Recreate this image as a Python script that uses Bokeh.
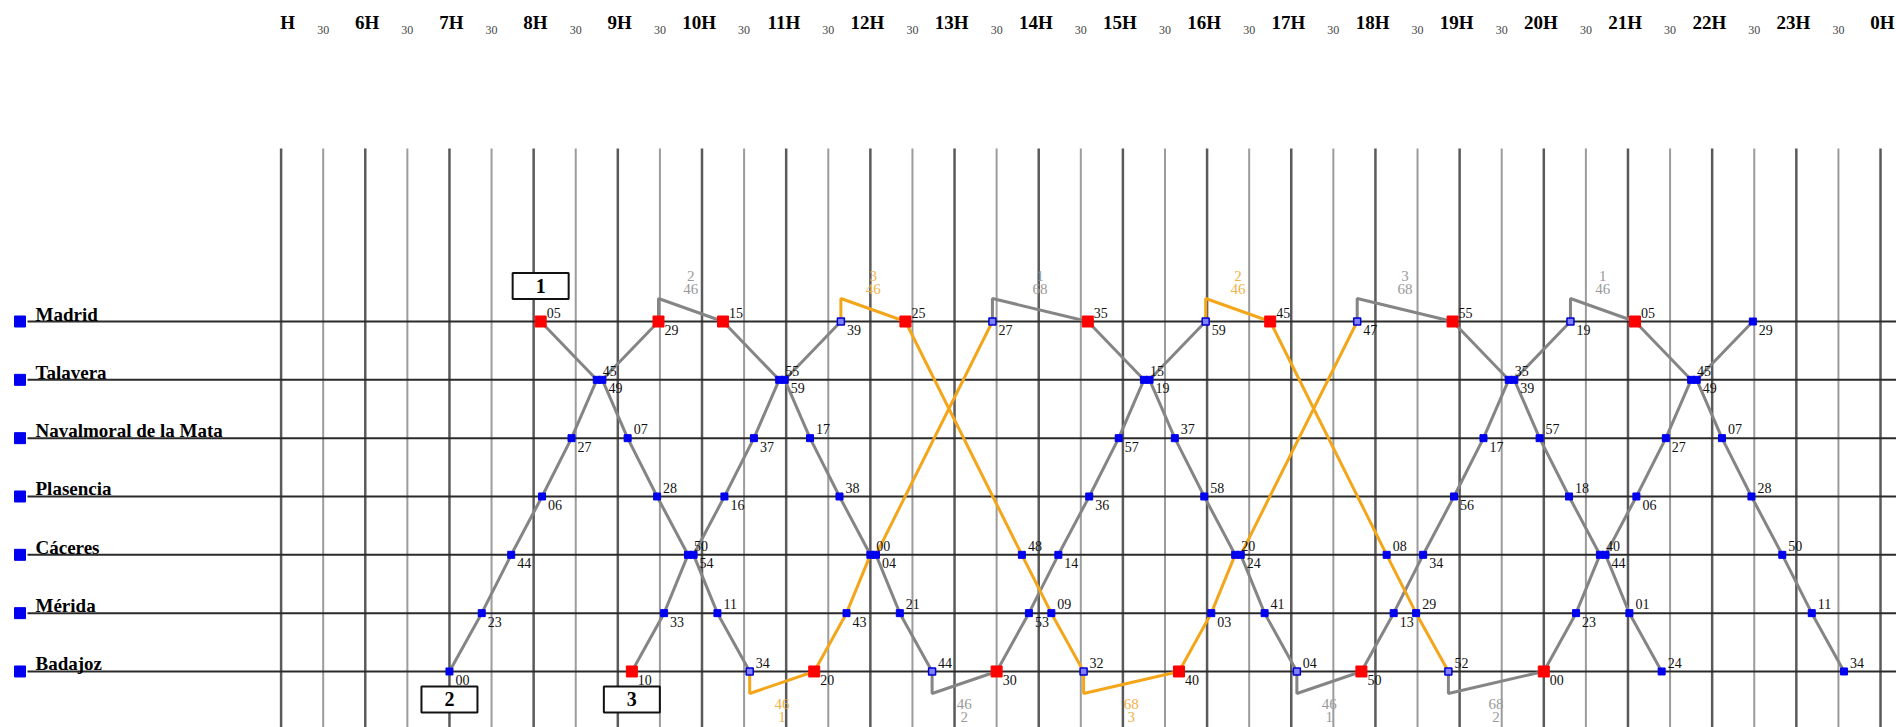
import numpy as np
from bokeh.plotting import figure
from bokeh.models import Range1d
from bokeh.core.properties import value
from bokeh.embed import file_html
from bokeh.resources import INLINE

# ---------------- data ----------------
stations = ["Madrid", "Talavera", "Navalmoral de la Mata", "Plasencia",
            "Cáceres", "Mérida", "Badajoz"]

hour_labels = ["H", "6H", "7H", "8H", "9H", "10H", "11H", "12H", "13H", "14H",
               "15H", "16H", "17H", "18H", "19H", "20H", "21H", "22H", "23H", "0H"]
hour_values = list(range(5, 25))
half_label = "30"

# times listed in station order Madrid -> Badajoz ("arr/dep" for crossings)
south_gray = [
    ["8:05", "8:45/8:49", "9:07", "9:28", "9:50/9:54", "10:11", "10:34"],
    ["10:15", "10:55/10:59", "11:17", "11:38", "12:00/12:04", "12:21", "12:44"],
    ["14:35", "15:15/15:19", "15:37", "15:58", "16:20/16:24", "16:41", "17:04"],
    ["18:55", "19:35/19:39", "19:57", "20:18", "20:40/20:44", "21:01", "21:24"],
    ["21:05", "21:45/21:49", "22:07", "22:28", "22:50", "23:11", "23:34"],
]
south_orange = [
    ["12:25", None, None, None, "13:48", "14:09", "14:32"],
    ["16:45", None, None, None, "18:08", "18:29", "18:52"],
]
north_gray = [
    ["9:29", "8:45/8:49", "8:27", "8:06", "7:44", "7:23", "7:00"],
    ["11:39", "10:55/10:59", "10:37", "10:16", "9:50/9:54", "9:33", "9:10"],
    ["15:59", "15:15/15:19", "14:57", "14:36", "14:14", "13:53", "13:30"],
    ["20:19", "19:35/19:39", "19:17", "18:56", "18:34", "18:13", "17:50"],
    ["22:29", "21:45/21:49", "21:27", "21:06", "20:40/20:44", "20:23", "20:00"],
]
north_orange = [
    ["13:27", None, None, None, "12:00/12:04", "11:43", "11:20"],
    ["17:47", None, None, None, "16:20/16:24", "16:03", "15:40"],
]

# turnarounds at Madrid (loop above the line)
madrid_turn_arr = ["9:29", "11:39", "13:27", "15:59", "17:47", "20:19"]
madrid_turn_dep = ["10:15", "12:25", "14:35", "16:45", "18:55", "21:05"]
madrid_turn_col = ["gray", "orange", "gray", "orange", "gray", "gray"]
madrid_turn_l1 = ["2", "3", "1", "2", "3", "1"]
madrid_turn_l2 = ["46", "46", "68", "46", "68", "46"]

# turnarounds at Badajoz (loop below the line)
badajoz_turn_arr = ["10:34", "12:44", "14:32", "17:04", "18:52"]
badajoz_turn_dep = ["11:20", "13:30", "15:40", "17:50", "20:00"]
badajoz_turn_col = ["orange", "gray", "orange", "gray", "gray"]
badajoz_turn_l1 = ["46", "46", "68", "46", "68"]
badajoz_turn_l2 = ["1", "2", "3", "1", "2"]

red_madrid = ["8:05", "9:29", "10:15", "12:25", "14:35", "16:45", "18:55", "21:05"]
red_badajoz = ["9:10", "11:20", "13:30", "15:40", "17:50", "20:00"]

box_labels = ["1", "2", "3"]
box_station = [0, 6, 6]
box_time = ["8:05", "7:00", "9:10"]

# ---------------- layout helpers ----------------
PX_H = 84.18      # px per hour
PX_S = 58.33      # px per station step
X5 = 280.6        # screen x of 5:00
Y0 = 321.0        # screen y of Madrid line
W, H = 1896, 727
OX, OY = 0, 0     # page position of the figure

def hx(px):
    return 5 + (px - X5) / PX_H

def sy(py):
    return (py - Y0) / PX_S

def dxp(px):
    return px / PX_H

def dyp(py):
    return py / PX_S

def hm(s):
    h, m = s.split(":")
    return int(h) + int(m) / 60.0

COL = {"gray": "#858585", "orange": "#F4A61A"}
LCOL = {"gray": "#9a9a9a", "orange": "#F0B24A"}
SERIF = value("Liberation Serif")

x_start, x_end = hx(OX), hx(OX + W)
y_top, y_bot = sy(OY), sy(OY + H)

p = figure(width=W, height=H, x_range=Range1d(x_start, x_end),
           y_range=Range1d(y_bot, y_top), output_backend="svg",
           toolbar_location=None, min_border=0, x_axis_location=None,
           y_axis_location=None, outline_line_color=None)
p.grid.visible = False
p.background_fill_color = "white"
p.border_fill_color = "white"

# vertical grid
hrs = np.array(hour_values, dtype=float)
halves = hrs[:-1] + 0.5
p.segment(x0=hrs, y0=sy(148), x1=hrs, y1=y_bot, color="#5a5a5a", line_width=2.5)
p.segment(x0=halves, y0=sy(148), x1=halves, y1=y_bot, color="#9c9c9c", line_width=2)

# header
p.text(x=[h + dxp(14) for h in hrs], y=[sy(21.5)] * len(hrs), text=hour_labels,
       text_font=SERIF, text_font_style="bold", text_font_size="19px",
       text_align="right", text_baseline="middle", text_color="black")
p.text(x=list(halves), y=[sy(29.5)] * len(halves), text=[half_label] * len(halves),
       text_font=SERIF, text_font_size="12px", text_align="center",
       text_baseline="middle", text_color="#444444")

# station lines and labels
idx = list(range(len(stations)))
p.segment(x0=[hx(27)] * 7, y0=idx, x1=[x_end] * 7, y1=idx, color="#2a2a2a", line_width=2)
p.scatter(x=[hx(19.5)] * 7, y=idx, marker="square", size=11, color="#0000ee")
p.text(x=[hx(35)] * 7, y=[i - dyp(7.5) for i in idx], text=stations, text_font=SERIF,
       text_font_style="bold", text_font_size="19px", text_baseline="middle",
       text_color="black")

# turnaround loops
for arr, dep, c in zip(madrid_turn_arr, madrid_turn_dep, madrid_turn_col):
    p.line([hm(arr), hm(arr), hm(dep)], [0, -dyp(23), 0], color=COL[c], line_width=3)
for arr, dep, c in zip(badajoz_turn_arr, badajoz_turn_dep, badajoz_turn_col):
    p.line([hm(arr), hm(arr), hm(dep)], [6, 6 + dyp(22), 6], color=COL[c], line_width=3)

# trains
pts = {}
labels = {}

def add_train(times, color, south):
    order = range(7) if south else range(6, -1, -1)
    xs, ys = [], []
    for i in order:
        s = times[i]
        if s is None:
            continue
        if "/" in s:
            a, d = s.split("/")
            seq = [(a, "above"), (d, "below")]
        else:
            seq = [(s, "above" if south else "below")]
        for t, pos in seq:
            xs.append(hm(t))
            ys.append(i)
            pts[(i, t)] = True
            labels[(i, t, pos)] = t.split(":")[1]
    p.line(xs, ys, color=COL[color], line_width=3)

for tr in south_gray:
    add_train(tr, "gray", True)
for tr in north_gray:
    add_train(tr, "gray", False)
for tr in south_orange:
    add_train(tr, "orange", True)
for tr in north_orange:
    add_train(tr, "orange", False)

blue, openb, red = ([], []), ([], []), ([], [])
turn_arr = set([(0, t) for t in madrid_turn_arr] + [(6, t) for t in badajoz_turn_arr])
for (i, t) in pts:
    if (i == 0 and t in red_madrid) or (i == 6 and t in red_badajoz):
        tgt = red
    elif (i, t) in turn_arr:
        tgt = openb
    else:
        tgt = blue
    tgt[0].append(hm(t))
    tgt[1].append(i)

p.scatter(x=blue[0], y=blue[1], marker="square", size=7, color="#0000f0")
p.scatter(x=openb[0], y=openb[1], marker="square", size=7, fill_color="#8080ff",
          line_color="#0000d0", line_width=1.5)
p.scatter(x=red[0], y=red[1], marker="square", size=11, color="#ff0000")

lx, ly, lt = [], [], []
for (i, t, pos), txt in labels.items():
    lx.append(hm(t) + dxp(6))
    ly.append(i - dyp(8.7) if pos == "above" else i + dyp(8.5))
    lt.append(txt)
p.text(x=lx, y=ly, text=lt, text_font=SERIF, text_font_size="14px",
       text_baseline="middle", text_color="#111111")

# loop labels
for arr, dep, c, l1, l2 in zip(madrid_turn_arr, madrid_turn_dep, madrid_turn_col,
                                madrid_turn_l1, madrid_turn_l2):
    xm = (hm(arr) + hm(dep)) / 2
    p.text(x=[xm, xm], y=[-dyp(46), -dyp(32.5)], text=[l1, l2], text_font=SERIF,
           text_font_size="15px", text_align="center", text_baseline="middle",
           text_color=LCOL[c])
for arr, dep, c, l1, l2 in zip(badajoz_turn_arr, badajoz_turn_dep, badajoz_turn_col,
                                badajoz_turn_l1, badajoz_turn_l2):
    xm = (hm(arr) + hm(dep)) / 2
    p.text(x=[xm, xm], y=[6 + dyp(32.3), 6 + dyp(45.7)], text=[l1, l2], text_font=SERIF,
           text_font_size="15px", text_align="center", text_baseline="middle",
           text_color=LCOL[c])

# train number boxes
bx = [hm(t) for t in box_time]
by = [s - dyp(35.5) if s == 0 else s + dyp(28) for s in box_station]
p.rect(x=bx, y=by, width=dxp(56), height=dyp(26), fill_color="white",
       line_color="#111111", line_width=2)
p.text(x=bx, y=by, text=box_labels, text_font=SERIF,
       text_font_style="bold", text_font_size="20px", text_align="center",
       text_baseline="middle", text_color="black")

open("out.html", "w").write(file_html(p, INLINE))
